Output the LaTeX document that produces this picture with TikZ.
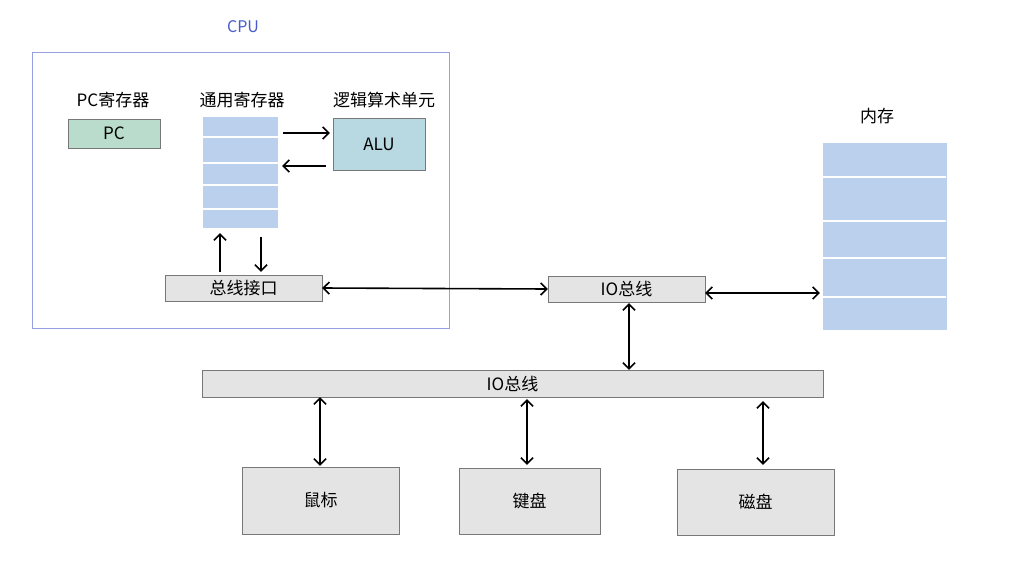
\documentclass[tikz,border=0pt]{standalone}
\usepackage{fontspec}
\setmainfont{Noto Sans CJK SC}
\usetikzlibrary{arrows.meta}

\definecolor{cpublue}{RGB}{72,92,205}
\definecolor{framec}{RGB}{150,160,225}
\definecolor{busgray}{RGB}{228,228,228}
\definecolor{boxline}{RGB}{120,120,120}
\definecolor{memblue}{RGB}{186,208,236}
\definecolor{pcgreen}{RGB}{186,220,204}
\definecolor{alucyan}{RGB}{184,216,226}

\begin{document}
\begin{tikzpicture}[x=1pt, y=-1pt, font=\fontsize{17}{20}\selectfont,
  graybox/.style={draw=boxline, fill=busgray, inner sep=0pt},
  bitbox/.style={fill=memblue, inner sep=0pt},
  oneway/.style={draw, line width=1.6pt, -{Straight Barb[length=6pt,width=12pt]}},
  twoway/.style={draw, line width=1.6pt, {Straight Barb[length=6pt,width=12pt]}-{Straight Barb[length=6pt,width=12pt]}}]
\useasboundingbox (0,0) rectangle (1009,565);

% CPU frame
\node[text=cpublue, font=\fontsize{16}{18}\selectfont] (cput) at (243,27) {CPU};
\draw[framec] (32,52) rectangle (449,328);

\node (pcl) at (113,100) {PC寄存器};
\node[draw=boxline, fill=pcgreen, minimum width=92pt, minimum height=29pt, inner sep=0pt] (pc) at (114,133.5) {PC};

\node (regl) at (242,100) {通用寄存器};
\node[bitbox, minimum width=75pt, minimum height=111pt] (reg) at (240.5,172.5) {};
\foreach \y in {137,163,185,209}
  \draw[white, line width=1.2pt] (202,\y) -- (279,\y);

\node (alul) at (384,100) {逻辑算术单元};
\node[draw=boxline, fill=alucyan, minimum width=92pt, minimum height=52pt, inner sep=0pt] (alu) at (379,144) {\itshape ALU};

\node[graybox, minimum width=157pt, minimum height=26pt] (bif) at (243.5,288) {总线接口};

% IO bus, memory
\node[graybox, minimum width=157pt, minimum height=26pt] (iob) at (626.5,289) {IO总线};

\node (meml) at (877,116) {内存};
\node[bitbox, minimum width=124pt, minimum height=187pt] (mem) at (885,236.5) {};
\foreach \y in {177,221,258,297}
  \draw[white, line width=1.2pt] (821,\y) -- (946,\y);

\node[graybox, minimum width=621pt, minimum height=27pt] (bus) at (512.5,383.5) {IO总线};

\node[graybox, minimum width=157pt, minimum height=67pt] (mouse) at (320.5,500.5) {鼠标};
\node[graybox, minimum width=141pt, minimum height=66pt] (kbd) at (529.5,501) {键盘};
\node[graybox, minimum width=157pt, minimum height=66pt] (disk) at (755.5,502) {磁盘};

% connectors
\coordinate (r1) at ([xshift=-20.5pt]reg.south);
\coordinate (r2) at ([xshift=20.5pt]reg.south);
\path[oneway, shorten >=5pt, shorten <=3pt] (r1 |- bif.north) -- (r1);
\path[oneway, shorten >=3pt, shorten <=9pt] (r2) -- (r2 |- bif.north);

\coordinate (a1) at ([yshift=11pt]alu.west);
\coordinate (a2) at ([yshift=-22pt]alu.west);
\path[oneway, shorten <=5pt, shorten >=3pt] (reg.east |- a1) -- (a1);
\path[oneway, shorten <=7pt, shorten >=4pt] (a2) -- (reg.east |- a2);

\path[twoway] (bif.east) -- (iob.west);
\coordinate (m1) at ([yshift=-4pt]iob.east);
\path[twoway, shorten >=3pt] (m1) -- (mem.west |- m1);
\coordinate (v1) at ([xshift=2.5pt]iob.south);
\path[twoway, shorten <=1pt] (v1) -- (v1 |- bus.north);

\coordinate (d0) at ([xshift=-0.5pt]mouse.north);
\coordinate (d1) at ([xshift=-2.5pt]kbd.north);
\coordinate (d2) at ([xshift=7.5pt]disk.north);
\path[twoway, shorten <=1pt] (d0) -- (d0 |- bus.south);
\path[twoway, shorten <=3pt, shorten >=2pt] (d1) -- (d1 |- bus.south);
\path[twoway, shorten <=4pt, shorten >=4pt] (d2) -- (d2 |- bus.south);
\end{tikzpicture}
\end{document}
